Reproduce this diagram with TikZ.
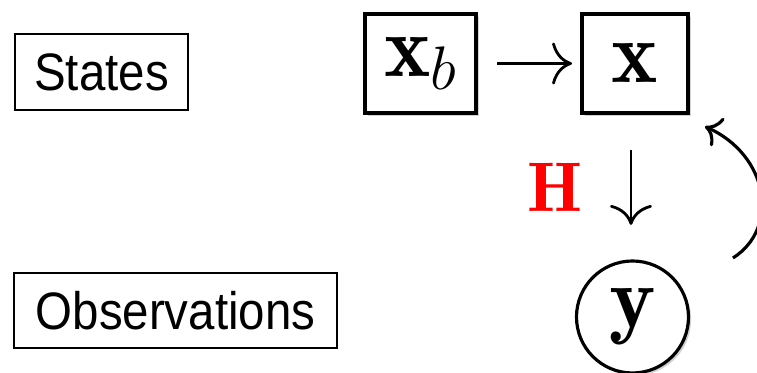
\RequirePackage{fix-cm}
\documentclass[tikz,border=0pt]{standalone}
\usepackage{fontspec}
\newfontfamily\labelfont[FakeStretch=0.9]{Liberation Sans}
\usetikzlibrary{arrows.meta, shadows}

\begin{document}
\begin{tikzpicture}[
    >={Computer Modern Rightarrow[length=0.4cm, width=0.84cm]},
    lbl/.style={
        draw, line width=0.8pt, inner sep=0pt,
        font=\labelfont\fontsize{30}{36}\selectfont
    },
    state/.style={
        draw, fill=white, line width=2.2pt, inner sep=0pt, minimum height=1.98cm,
        font=\fontsize{50}{54}\selectfont,
        drop shadow={shadow xshift=1.5pt, shadow yshift=-1.5pt, fill=black!35}
    },
    obs/.style={
        circle, draw, fill=white, line width=1.8pt, inner sep=0pt, minimum size=2.24cm,
        font=\fontsize{50}{54}\selectfont,
        drop shadow={shadow xshift=1.5pt, shadow yshift=-1.5pt, fill=black!35}
    },
    arr/.style={->, line width=1.6pt},
    fbarr/.style={-{Computer Modern Rightarrow[length=0.3cm, width=0.62cm]}, line width=1.8pt},
]
\useasboundingbox (0,0) rectangle (15.14,7.46);

% Row labels
\node[lbl, minimum width=3.46cm, minimum height=1.52cm] (states) at (2.03,6.02) {States};
\node[lbl, minimum width=6.46cm, minimum height=1.5cm] (observations) at (3.51,1.25) {Observations};

% States
\node[state, minimum width=2.22cm] (xb) at (8.41,6.19) {\raisebox{-0.06cm}{$\mathbf{x}_b$}};
\node[state, minimum width=2.12cm] (x) at (12.7,6.19) {\raisebox{-0.06cm}{$\mathbf{x}$}};

% Observation
\node[obs] (y) at (12.65,1.12) {$\mathbf{y}$};

% Observation operator
\node[text=red, font=\fontsize{40}{44}\selectfont] (H) at (11.11,3.72) {$\mathbf{H}$};

% Arrows
\draw[arr, shorten <=0.38cm, shorten >=0.16cm] (xb) -- (x);
\draw[arr, shorten <=0.70cm, shorten >=0.69cm] ([xshift=-0.08cm]x.south) -- ([xshift=-0.08cm]x.south |- y.north);

% Feedback
\coordinate (fbstart) at (14.66,2.3);
\coordinate (fbend) at (14.1,4.93);
\draw[fbarr] (fbstart) .. controls (15.6,2.9) and (15.38,4.35) .. (fbend);

\end{tikzpicture}
\end{document}
